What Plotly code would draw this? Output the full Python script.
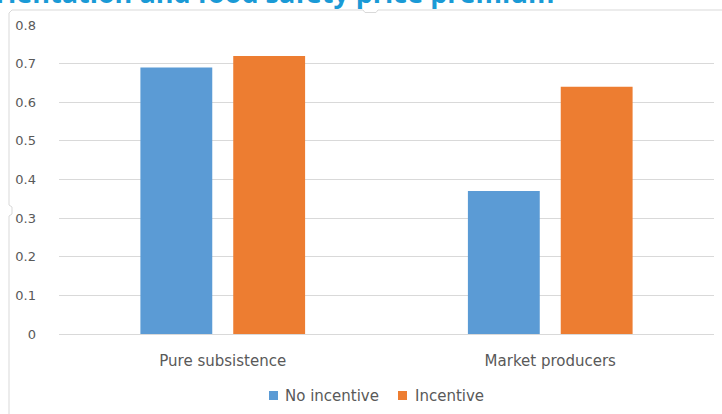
import plotly.graph_objects as go

categories = ["Pure subsistence", "Market producers"]
series_names = ["No incentive", "Incentive"]
no_incentive = [0.69, 0.37]
incentive = [0.72, 0.64]
y_ticks = [0, 0.1, 0.2, 0.3, 0.4, 0.5, 0.6, 0.7, 0.8]
y_tick_text = ["0", "0.1", "0.2", "0.3", "0.4", "0.5", "0.6", "0.7", "0.8"]
title_text = "orientation and food safety price premium"
colors = ["#5b9bd5", "#ed7d31"]

W, H = 722, 414
ML, MR, MT, MB = 59, 8, 25, 80
PW, PH = W - ML - MR, H - MT - MB
FONT = "DejaVu Sans"
GREY = "#595959"


def px(x):
    return (x - ML) / PW


def py(y):
    return (H - MB - y) / PH


fig = go.Figure()
fig.add_trace(go.Bar(name=series_names[0], x=categories, y=no_incentive,
                     marker=dict(color=colors[0], line=dict(width=0))))
fig.add_trace(go.Bar(name=series_names[1], x=categories, y=incentive,
                     marker=dict(color=colors[1], line=dict(width=0))))

border = "#d9d9d9"
shapes = [
    # chart frame (left and top edges with rounded corner and handles)
    dict(type="path", xref="paper", yref="paper",
         path=(f"M {px(9)},{py(420)} L {px(9)},{py(216)} L {px(12)},{py(214)} L {px(12)},{py(207)} "
               f"L {px(9)},{py(205)} L {px(9)},{py(13)} L {px(12)},{py(10)} L {px(363)},{py(10)} "
               f"L {px(365)},{py(12.5)} L {px(376)},{py(12.5)} L {px(378)},{py(10)} L {px(730)},{py(10)}"),
         line=dict(color=border, width=1)),
]

annotations = [
    dict(text="<b>" + title_text + "</b>", xref="paper", yref="paper",
         x=px(557), y=py(13.5), xanchor="right", yanchor="bottom",
         showarrow=False, font=dict(family="Open Sans", size=27, color="#1a9ad6")),
]

# custom legend
legend_items = [(269, 283), (398, 413)]
for (sq_x, tx_x), name, col in zip(legend_items, series_names, colors):
    shapes.append(dict(type="rect", xref="paper", yref="paper",
                       x0=px(sq_x), x1=px(sq_x + 9), y0=py(400), y1=py(391),
                       fillcolor=col, line=dict(width=0)))
    annotations.append(dict(text=name, xref="paper", yref="paper", x=px(tx_x), y=py(396),
                            xanchor="left", yanchor="middle", showarrow=False,
                            font=dict(family=FONT, size=15, color=GREY)))

fig.update_layout(
    width=W, height=H,
    margin=dict(l=ML, r=MR, t=MT, b=MB, autoexpand=False),
    paper_bgcolor="white", plot_bgcolor="white",
    barmode="group", bargap=0.433, bargroupgap=0.226,
    font=dict(family=FONT, size=13, color=GREY),
    shapes=shapes,
    annotations=annotations,
    showlegend=False,
)
fig.update_xaxes(showgrid=False, showline=False, ticks="", ticklabelstandoff=16, automargin=False,
                 tickfont=dict(family=FONT, size=15, color=GREY))
fig.update_yaxes(range=[0, 0.8], tickvals=y_ticks, ticktext=y_tick_text, automargin=False,
                 showgrid=True, gridcolor="#d9d9d9", gridwidth=1,
                 zeroline=True, zerolinecolor="#d9d9d9", zerolinewidth=1,
                 showline=False, ticks="", ticklabelstandoff=22,
                 tickfont=dict(family=FONT, size=13, color=GREY))

fig.write_html("out.html")
